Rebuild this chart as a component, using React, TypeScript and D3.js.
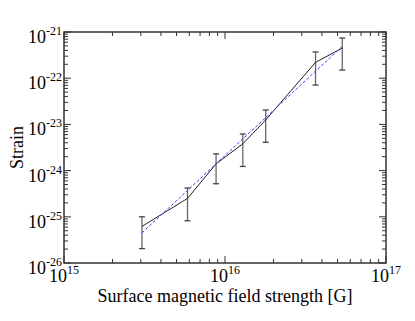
import React from "react";
import * as d3 from "d3";

// measured points (field strength in G, strain)
const fieldStrength = [3.05e15, 5.85e15, 8.8e15, 1.29e16, 1.79e16, 3.65e16, 5.35e16];
const strain = [6.2e-26, 2.5e-25, 1.4e-24, 3.8e-24, 1.25e-23, 2.2e-22, 4.5e-22];
const strainUpper = [1.0e-25, 4.2e-25, 2.3e-24, 6.2e-24, 2.05e-23, 3.7e-22, 7.4e-22];
const strainLower = [2.05e-26, 8.2e-26, 5.2e-25, 1.23e-24, 4.1e-24, 7.1e-23, 1.5e-22];

// power-law fit (dashed blue)
const fitField = [3.05e15, 5.35e16];
const fitStrain = [4.5e-26, 4.9e-22];

const xDecades = [15, 16, 17];
const yDecades = [-26, -25, -24, -23, -22, -21];

const W = 415;
const H = 321;
const margin = { top: 32, right: 29, bottom: 58, left: 64 };

const App = () => {
  const x = d3
    .scaleLog()
    .domain([1e15, 1e17])
    .range([margin.left, W - margin.right]);
  const y = d3
    .scaleLog()
    .domain([1e-26, 1e-21])
    .range([H - margin.bottom, margin.top]);

  const x0 = margin.left;
  const x1 = W - margin.right;
  const y0 = H - margin.bottom;
  const y1 = margin.top;

  const majorLen = 7;
  const minorLen = 4;

  // minor ticks 2..9 in every decade
  const xMinor: number[] = [];
  for (let d = 15; d < 17; d++) for (let m = 2; m <= 9; m++) xMinor.push(m * Math.pow(10, d));
  const yMinor: number[] = [];
  for (let d = -26; d < -21; d++) for (let m = 2; m <= 9; m++) yMinor.push(m * Math.pow(10, d));

  const line = d3
    .line<number>()
    .x((_, i) => x(fieldStrength[i]))
    .y((d) => y(d));

  const fitLine = d3
    .line<number>()
    .x((_, i) => x(fitField[i]))
    .y((d) => y(d));

  const axisColor = "#333";
  const font = "'Liberation Serif', 'Times New Roman', serif";

  return (
    <svg
      width={W}
      height={H}
      style={{ position: "absolute", left: 0, top: 0, background: "#fff" }}
      fontFamily={font}
    >
      {/* ticks, mirrored on all sides */}
      <g stroke={axisColor} strokeWidth={1}>
        {xDecades.map((d) => {
          const px = x(Math.pow(10, d));
          return (
            <g key={"xM" + d}>
              <line x1={px} x2={px} y1={y0} y2={y0 - majorLen} />
              <line x1={px} x2={px} y1={y1} y2={y1 + majorLen} />
            </g>
          );
        })}
        {xMinor.map((v, i) => {
          const px = x(v);
          return (
            <g key={"xm" + i}>
              <line x1={px} x2={px} y1={y0} y2={y0 - minorLen} />
              <line x1={px} x2={px} y1={y1} y2={y1 + minorLen} />
            </g>
          );
        })}
        {yDecades.map((d) => {
          const py = y(Math.pow(10, d));
          return (
            <g key={"yM" + d}>
              <line x1={x0} x2={x0 + majorLen} y1={py} y2={py} />
              <line x1={x1} x2={x1 - majorLen} y1={py} y2={py} />
            </g>
          );
        })}
        {yMinor.map((v, i) => {
          const py = y(v);
          return (
            <g key={"ym" + i}>
              <line x1={x0} x2={x0 + minorLen} y1={py} y2={py} />
              <line x1={x1} x2={x1 - minorLen} y1={py} y2={py} />
            </g>
          );
        })}
      </g>

      {/* frame */}
      <rect
        x={x0}
        y={y1}
        width={x1 - x0}
        height={y0 - y1}
        fill="none"
        stroke={axisColor}
        strokeWidth={1.5}
      />

      {/* error bars */}
      <g stroke="#666" strokeWidth={1.3}>
        {fieldStrength.map((f, i) => {
          const px = x(f);
          return (
            <g key={"e" + i}>
              <line x1={px} x2={px} y1={y(strainUpper[i])} y2={y(strainLower[i])} />
              <line x1={px - 3} x2={px + 3} y1={y(strainUpper[i])} y2={y(strainUpper[i])} stroke="#444" />
              <line x1={px - 3} x2={px + 3} y1={y(strainLower[i])} y2={y(strainLower[i])} stroke="#444" />
            </g>
          );
        })}
      </g>

      {/* data line */}
      <path d={line(strain) || ""} fill="none" stroke="#222" strokeWidth={1} />

      {/* fit */}
      <path
        d={fitLine(fitStrain) || ""}
        fill="none"
        stroke="#3a3aff"
        strokeWidth={1}
        strokeDasharray="3,2"
      />

      {/* x tick labels */}
      {xDecades.map((d) => (
        <text key={"xl" + d} x={x(Math.pow(10, d))} y={y0 + 19} textAnchor="middle" fontSize={18} fill="#000">
          10
          <tspan fontSize={12} dy={-8}>
            {d}
          </tspan>
        </text>
      ))}

      {/* y tick labels */}
      {yDecades.map((d) => (
        <text key={"yl" + d} x={x0 - 2} y={y(Math.pow(10, d)) + 11} textAnchor="end" fontSize={18} fill="#000">
          10
          <tspan fontSize={12} dy={-8}>
            {d}
          </tspan>
        </text>
      ))}

      {/* axis titles */}
      <text x={(x0 + x1) / 2} y={302} textAnchor="middle" fontSize={18} fill="#000">
        Surface magnetic field strength [G]
      </text>
      <text
        transform={`translate(23, ${(y0 + y1) / 2}) rotate(-90)`}
        textAnchor="middle"
        fontSize={18}
        fill="#000"
      >
        Strain
      </text>
    </svg>
  );
};

export default App;
